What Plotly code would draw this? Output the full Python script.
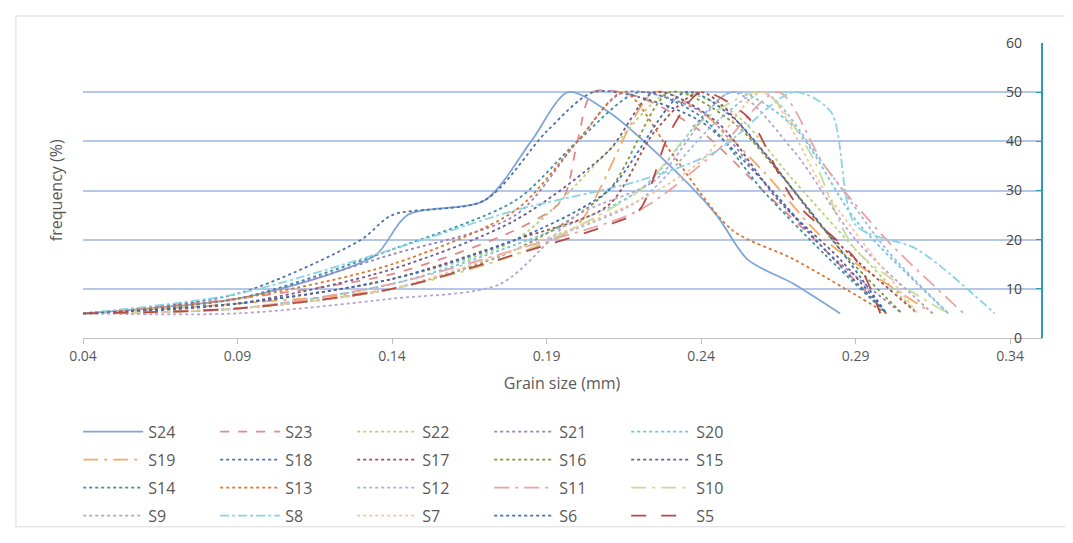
import plotly.graph_objects as go

series_names = ["S24", "S23", "S22", "S21", "S20", "S19", "S18", "S17", "S16", "S15",
                "S14", "S13", "S12", "S11", "S10", "S9", "S8", "S7", "S6", "S5"]

grain_sizes = [
    [0.04, 0.09, 0.12, 0.135, 0.145, 0.17, 0.185, 0.197, 0.21, 0.23, 0.245, 0.255, 0.27, 0.285],
    [0.04, 0.09, 0.14, 0.18, 0.195, 0.2, 0.205, 0.22, 0.24, 0.26, 0.28, 0.3],
    [0.04, 0.09, 0.14, 0.18, 0.21, 0.23, 0.25, 0.27, 0.29, 0.31],
    [0.04, 0.09, 0.14, 0.18, 0.2, 0.215, 0.24, 0.26, 0.28, 0.305],
    [0.04, 0.09, 0.14, 0.18, 0.22, 0.25, 0.27, 0.29, 0.32],
    [0.04, 0.09, 0.14, 0.18, 0.2, 0.225, 0.24, 0.26, 0.28, 0.315],
    [0.04, 0.09, 0.13, 0.14, 0.17, 0.19, 0.205, 0.22, 0.24, 0.26, 0.28, 0.3],
    [0.04, 0.09, 0.14, 0.18, 0.21, 0.225, 0.24, 0.26, 0.28, 0.31],
    [0.04, 0.09, 0.14, 0.18, 0.21, 0.23, 0.25, 0.27, 0.285, 0.305],
    [0.04, 0.09, 0.14, 0.18, 0.21, 0.225, 0.245, 0.265, 0.285, 0.3],
    [0.04, 0.09, 0.14, 0.18, 0.2, 0.22, 0.24, 0.26, 0.28, 0.3],
    [0.04, 0.09, 0.14, 0.18, 0.2, 0.215, 0.23, 0.25, 0.27, 0.3],
    [0.04, 0.09, 0.14, 0.18, 0.22, 0.245, 0.26, 0.28, 0.3, 0.32],
    [0.04, 0.09, 0.14, 0.18, 0.22, 0.245, 0.265, 0.28, 0.3, 0.325],
    [0.04, 0.09, 0.14, 0.18, 0.22, 0.24, 0.26, 0.275, 0.29, 0.32],
    [0.04, 0.09, 0.14, 0.175, 0.2, 0.225, 0.25, 0.27, 0.29, 0.315],
    [0.04, 0.09, 0.14, 0.18, 0.22, 0.245, 0.27, 0.282, 0.29, 0.31, 0.335],
    [0.04, 0.09, 0.14, 0.18, 0.22, 0.24, 0.26, 0.28, 0.31],
    [0.04, 0.09, 0.14, 0.18, 0.21, 0.235, 0.25, 0.27, 0.285, 0.3],
    [0.04, 0.09, 0.14, 0.18, 0.21, 0.22, 0.23, 0.24, 0.255, 0.27, 0.29, 0.298],
]

frequencies = [
    [5, 8, 13, 17, 25, 28, 40, 50, 46, 35, 25, 16, 11, 5],
    [5, 8, 13, 22, 28, 40, 50, 49, 42, 30, 18, 5],
    [5, 7, 12, 20, 38, 50, 46, 32, 18, 5],
    [5, 8, 17, 25, 40, 50, 46, 32, 18, 5],
    [5, 6, 11, 19, 30, 50, 43, 24, 5],
    [5, 7, 10, 17, 23, 50, 46, 34, 20, 5],
    [5, 9, 20, 25, 28, 42, 50, 49, 44, 32, 18, 5],
    [5, 7, 12, 20, 27, 42, 50, 38, 22, 5],
    [5, 6, 10, 18, 30, 50, 44, 30, 18, 5],
    [5, 7, 14, 24, 38, 50, 44, 28, 16, 5],
    [5, 8, 18, 28, 40, 50, 45, 30, 17, 5],
    [5, 8, 15, 26, 40, 50, 38, 22, 16, 5],
    [5, 6, 10, 18, 28, 44, 50, 35, 18, 5],
    [5, 6, 11, 18, 26, 38, 50, 35, 20, 5],
    [5, 6, 10, 17, 30, 44, 50, 38, 18, 5],
    [5, 5, 8, 11, 25, 32, 50, 38, 20, 5],
    [5, 9, 18, 26, 32, 38, 50, 46, 23, 18, 5],
    [5, 6, 10, 18, 28, 36, 50, 30, 5],
    [5, 7, 12, 20, 30, 50, 45, 30, 18, 5],
    [5, 6, 10, 17, 23, 26, 42, 50, 45, 28, 16, 5],
]

colors = ["#7FA6D8", "#E08A87", "#B5D27A", "#9B7FC0", "#6FC5DD", "#F6A865", "#4F6FA8",
          "#A94C4C", "#7E9A3E", "#6E5A93", "#3E8FA0", "#D9772F", "#9EB9E0", "#E9A3A1",
          "#C5DC9F", "#B5A3D3", "#8CD2E6", "#F9C49B", "#3F6EB5", "#B94A48"]
dashes = ["solid", "dash", "dot", "dot", "dot", "longdashdot", "dot", "dot", "dot", "dot",
          "dot", "dot", "dot", "longdashdot", "longdashdot", "dot", "dashdot", "dot", "dot", "longdash"]

x_ticks = [0.04, 0.09, 0.14, 0.19, 0.24, 0.29, 0.34]

fig = go.Figure()
for i in range(len(series_names)):
    row = i // 5
    fig.add_trace(go.Scatter(
        x=grain_sizes[i], y=frequencies[i], name=series_names[i],
        legend="legend" if row == 0 else "legend%d" % (row + 1),
        mode="lines", line=dict(color=colors[i], dash=dashes[i], width=1.8,
                                shape="spline", smoothing=0.8)
    ))

font_color = "#595959"
legend_rows = {}
for row in range(4):
    key = "legend" if row == 0 else "legend%d" % (row + 1)
    legend_rows[key] = dict(orientation="h", x=-0.005, y=-0.26 - row * 0.095,
                            xanchor="left", yanchor="top",
                            entrywidth=62, entrywidthmode="pixels", itemwidth=60,
                            font=dict(size=16, color=font_color), bgcolor="rgba(0,0,0,0)")

fig.update_layout(
    width=1073, height=543,
    paper_bgcolor="white", plot_bgcolor="white",
    margin=dict(l=75, r=40, t=35, b=213, autoexpand=False),
    font=dict(family="Open Sans", color=font_color, size=14),
    xaxis=dict(range=[0.04, 0.35], tickvals=x_ticks, ticktext=["%.2f" % v for v in x_ticks],
               showgrid=False, zeroline=False, showline=True, linecolor="#BFBFBF",
               ticks="outside", ticklen=5, tickcolor="#BFBFBF",
               title=dict(text="Grain size (mm)", font=dict(size=16, color=font_color), standoff=14)),
    yaxis=dict(range=[0, 60], dtick=10, side="right", ticklabelposition="inside",
               ticklabeloverflow="allow", ticklabelstandoff=14,
               showgrid=True, gridcolor="#B4C7E7", gridwidth=1.5, zeroline=False,
               showline=True, linecolor="#2E9BB5", linewidth=1.5,
               ticks="inside", ticklen=5, tickcolor="#2E9BB5"),
    annotations=[dict(text="frequency (%)", textangle=-90, xref="paper", yref="paper",
                      x=-0.015, y=0.5, xanchor="right", showarrow=False,
                      font=dict(size=16, color=font_color))],
    shapes=[dict(type="rect", xref="paper", yref="paper", x0=-0.07, x1=1.028, y0=-0.64, y1=1.0915,
                 line=dict(color="#D9D9D9", width=1))],
    **legend_rows
)

fig.write_html("out.html")
